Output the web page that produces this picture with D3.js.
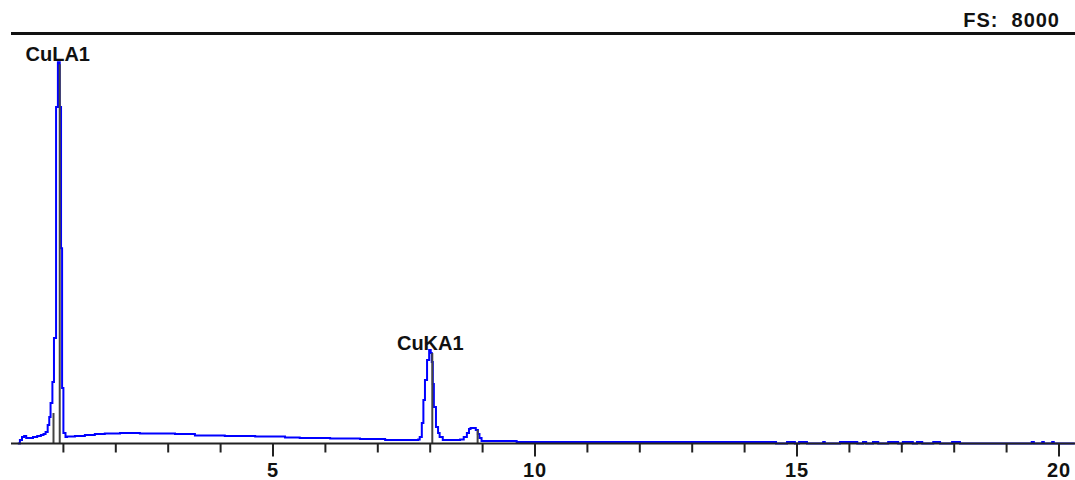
<!DOCTYPE html>
<html>
<head>
<meta charset="utf-8">
<script src="https://cdn.jsdelivr.net/npm/d3@7"></script>
<style>
body { margin:0; background:#fff; }
svg text { font-family:"Liberation Sans", Arial, sans-serif; font-weight:bold; fill:#111; white-space:pre; }
</style>
</head>
<body>
<svg id="spectrum"></svg>
<script>
// spectrum: channel start energy (keV) and counts
var energies = [0.13,0.17,0.21,0.25,0.29,0.42,0.50,0.57,0.62,0.66,0.70,0.73,0.755,0.79,0.82,0.86,0.895,0.93,0.955,0.975,1.00,1.04,
    1.07,1.22,1.41,1.60,1.79,2.08,2.46,3.13,3.51,4.08,4.66,5.23,5.51,6.09,6.66,7.14,7.77,
    7.80,7.84,7.87,7.90,7.94,7.98,8.01,8.03,8.05,8.07,8.11,8.15,8.18,8.24,8.57,
    8.64,8.70,8.74,8.77,8.87,8.91,8.94,8.98,9.65,14.6,
    14.81,14.96,15.04,15.19,15.50,15.53,15.82,16.15,16.26,16.32,16.45,16.55,16.74,16.93,
    17.02,17.21,17.29,17.39,17.60,17.73,17.96,18.11,19.48,19.52,19.68,19.71,19.87,19.90,20.3];
var counts = [0,68,127,146,107,127,146,166,185,224,361,517,790,1200,2058,6566,7440,6566,3810,1083,205,127,
    137,146,166,185,195,205,195,185,156,146,137,117,107,98,88,68,78,
    127,400,849,1239,1629,1824,1766,1590,1161,712,322,205,127,68,78,
    127,205,283,302,263,185,107,49,29,0,
    30,0,30,0,30,0,30,0,30,0,30,0,30,0,
    30,0,30,0,30,0,30,0,30,0,30,0,30,0,0];

// line markers
var markerNames = ["CuLA1","","CuKA1",""];
var markerEnergies = [0.93,0.811,8.04,8.905];
var markerCounts = [7400,595,1766,263];

var majorTicks = [5,10,15,20];
var minorTicks = [1,2,3,4,6,7,8,9,11,12,13,14,16,17,18,19];
var fullScale = 8000;

var drawSpectrum = function()
{
    var screen = {width:1075,height:480};

    var svg = d3.select("#spectrum")
        .attr("width",screen.width)
        .attr("height",screen.height);

    var xScale = d3.scaleLinear()
        .domain([0,20])
        .range([11,1059]);

    var yScale = d3.scaleLinear()
        .domain([0,fullScale])
        .range([443.5,33.5]);

    var points = energies.map(function(e,i){ return [e,counts[i]]; });

    var lineGen = d3.line()
        .x(function(d){ return xScale(d[0]); })
        .y(function(d){ return yScale(d[1]); })
        .curve(d3.curveStepAfter);

    // full scale line on top
    svg.append("line")
        .attr("x1",xScale(0))
        .attr("x2",screen.width)
        .attr("y1",yScale(fullScale))
        .attr("y2",yScale(fullScale))
        .attr("stroke","#111")
        .attr("stroke-width",3);

    svg.append("text")
        .attr("x",1060)
        .attr("y",27)
        .attr("text-anchor","end")
        .attr("font-size",20)
        .attr("letter-spacing",1)
        .text("FS:  " + fullScale);

    svg.append("path")
        .datum(points)
        .attr("d",lineGen)
        .attr("fill","none")
        .attr("stroke","#0000ff")
        .attr("stroke-width",2);

    // marker lines
    svg.selectAll("line.marker")
        .data(markerEnergies)
        .enter()
        .append("line")
        .attr("class","marker")
        .attr("x1",function(d){ return xScale(d); })
        .attr("x2",function(d){ return xScale(d); })
        .attr("y1",yScale(0))
        .attr("y2",function(d,i){ return yScale(markerCounts[i]); })
        .attr("stroke","#444")
        .attr("stroke-width",2);

    svg.selectAll("text.label")
        .data(markerEnergies)
        .enter()
        .append("text")
        .attr("class","label")
        .attr("x",function(d){ return xScale(d) - 2; })
        .attr("y",function(d,i){ return yScale(markerCounts[i]) - 3; })
        .attr("text-anchor","middle")
        .attr("font-size",20)
        .text(function(d,i){ return markerNames[i]; });

    // x axis
    var axisG = svg.append("g");

    axisG.append("line")
        .attr("x1",xScale(0))
        .attr("x2",screen.width)
        .attr("y1",yScale(0))
        .attr("y2",yScale(0))
        .attr("stroke","#222")
        .attr("stroke-width",2);

    axisG.selectAll("line.minor")
        .data(minorTicks)
        .enter()
        .append("line")
        .attr("class","minor")
        .attr("x1",function(d){ return xScale(d); })
        .attr("x2",function(d){ return xScale(d); })
        .attr("y1",yScale(0))
        .attr("y2",yScale(0) + 9)
        .attr("stroke","#222")
        .attr("stroke-width",2);

    axisG.selectAll("line.major")
        .data(majorTicks)
        .enter()
        .append("line")
        .attr("class","major")
        .attr("x1",function(d){ return xScale(d); })
        .attr("x2",function(d){ return xScale(d); })
        .attr("y1",yScale(0))
        .attr("y2",yScale(0) + 13)
        .attr("stroke","#222")
        .attr("stroke-width",2);

    axisG.selectAll("text.tick")
        .data(majorTicks)
        .enter()
        .append("text")
        .attr("class","tick")
        .attr("x",function(d){ return xScale(d); })
        .attr("y",477)
        .attr("text-anchor","middle")
        .attr("font-size",20)
        .attr("letter-spacing",1)
        .text(function(d){ return d; });
}

drawSpectrum();
</script>
</body>
</html>
